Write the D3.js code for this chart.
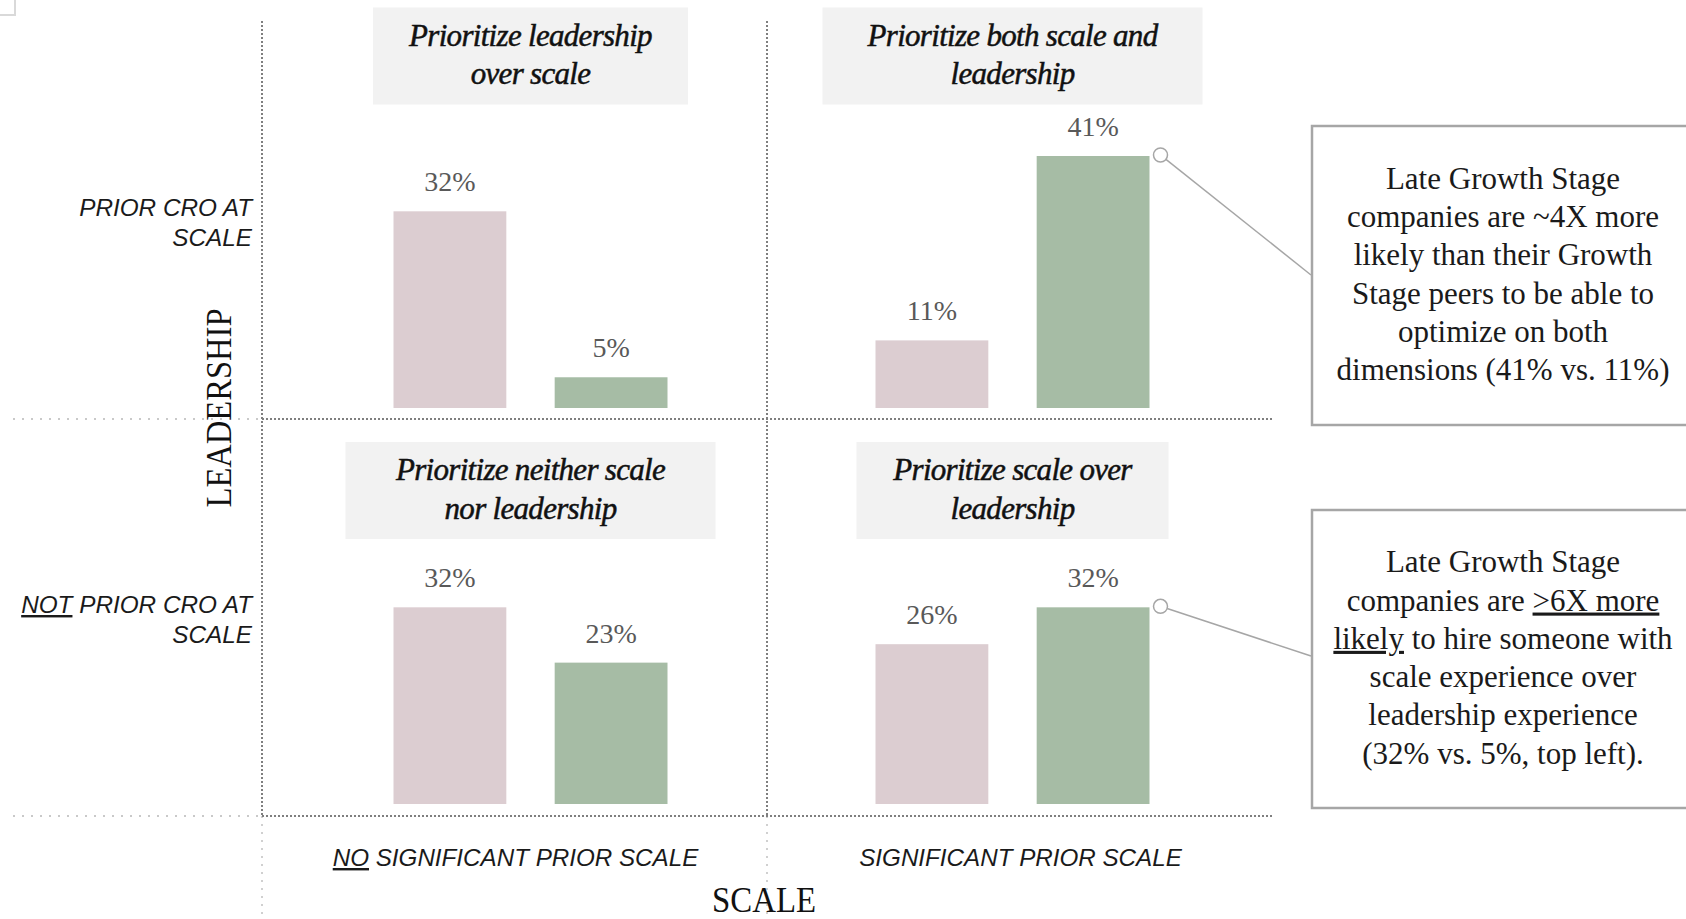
<!DOCTYPE html>
<html>
<head>
<meta charset="utf-8">
<script src="https://cdn.jsdelivr.net/npm/d3@7"></script>
<style>
  html, body { margin: 0; padding: 0; background: #ffffff; }
  svg { display: block; }
</style>
</head>
<body>
<div id="chart"></div>
<script>
// data
var groups = ["Growth Stage", "Late Growth Stage"];
var quadrantTitles = [
	["Prioritize leadership", "over scale"],
	["Prioritize both scale and", "leadership"],
	["Prioritize neither scale", "nor leadership"],
	["Prioritize scale over", "leadership"]
];
var growthValues = [32, 11, 32, 26];
var lateValues = [5, 41, 23, 32];
var rowLabels = [
	[[{t: "PRIOR CRO AT"}], [{t: "SCALE"}]],
	[[{t: "NOT", u: true}, {t: " PRIOR CRO AT"}], [{t: "SCALE"}]]
];
var colLabels = [
	[{t: "NO", u: true}, {t: " SIGNIFICANT PRIOR SCALE"}],
	[{t: "SIGNIFICANT PRIOR SCALE"}]
];
var callouts = [
	{quad: 1, lines: [
		[{t: "Late Growth Stage"}],
		[{t: "companies are ~4X more"}],
		[{t: "likely than their Growth"}],
		[{t: "Stage peers to be able to"}],
		[{t: "optimize on both"}],
		[{t: "dimensions (41% vs. 11%)"}]
	]},
	{quad: 3, lines: [
		[{t: "Late Growth Stage"}],
		[{t: "companies are "}, {t: ">6X more", u: true}],
		[{t: "likely", u: true}, {t: " to hire someone with"}],
		[{t: "scale experience over"}],
		[{t: "leadership experience"}],
		[{t: "(32% vs. 5%, top left)."}]
	]}
];

var colorDic = {"Growth Stage": "#dccdd1", "Late Growth Stage": "#a6bca5"};
var serif = "'Liberation Serif', 'Times New Roman', serif";
var sans = "'Liberation Sans', Arial, sans-serif";

var width = 1686, height = 919;
var gridX = [262, 767, 1272];    // left, middle, right of quadrant grid
var gridY = [21, 419, 816];      // top, middle, bottom
var barStart = [393.5, 875.5];   // where each column's bars begin
var baseline = [408, 804];       // bar baseline per row
var titleTop = [7.5, 442];
var titleBoxW = [315, 380, 370, 312];
var calloutBox = [{y: 126, h: 299}, {y: 510, h: 298}];

var svg = d3.select("#chart").append("svg")
	.attr("width", width)
	.attr("height", height);

// small corner mark at top left
svg.append("path")
	.attr("d", "M0,15H15V0")
	.attr("fill", "none")
	.attr("stroke", "#d9d9d9")
	.attr("stroke-width", 2);

var barH = d3.scaleLinear().domain([0, 41]).range([0, 252]);

// grid lines
var gridG = svg.append("g");
// light extensions
[gridY[1], gridY[2]].forEach(function (y) {
	gridG.append("line")
		.attr("x1", 13).attr("x2", gridX[0]).attr("y1", y).attr("y2", y)
		.attr("stroke", "#c9c9c9").attr("stroke-width", 2).attr("stroke-dasharray", "2,7");
});
[gridX[0], gridX[1]].forEach(function (x) {
	gridG.append("line")
		.attr("x1", x).attr("x2", x).attr("y1", gridY[2]).attr("y2", height)
		.attr("stroke", "#d0d0d0").attr("stroke-width", 2).attr("stroke-dasharray", "2,6");
});
// dark dotted grid
[gridY[1], gridY[2]].forEach(function (y) {
	gridG.append("line")
		.attr("x1", gridX[0]).attr("x2", gridX[2]).attr("y1", y).attr("y2", y)
		.attr("stroke", "#7f7f7f").attr("stroke-width", 2).attr("stroke-dasharray", "2,2");
});
[gridX[0], gridX[1]].forEach(function (x) {
	gridG.append("line")
		.attr("x1", x).attr("x2", x).attr("y1", gridY[0]).attr("y2", gridY[2])
		.attr("stroke", "#7f7f7f").attr("stroke-width", 2).attr("stroke-dasharray", "2,2");
});

function addSpans(textSel, parts) {
	parts.forEach(function (p) {
		var s = textSel.append("tspan").text(p.t);
		if (p.u) s.style("text-decoration", "underline");
	});
}

var barTops = [];

for (var q = 0; q < 4; q++) {
	var row = Math.floor(q / 2), col = q % 2;
	var x = d3.scaleBand()
		.domain(groups)
		.range([barStart[col], barStart[col] + 274])
		.paddingInner(0.3)
		.paddingOuter(0);
	var vals = [
		{name: groups[0], number: growthValues[q]},
		{name: groups[1], number: lateValues[q]}
	];
	var g = svg.append("g");

	g.selectAll(".typeBar")
		.data(vals)
		.enter()
		.append("rect")
			.attr("class", "typeBar")
			.attr("x", d => x(d.name))
			.attr("y", d => baseline[row] - barH(d.number))
			.attr("width", x.bandwidth())
			.attr("height", d => barH(d.number))
			.attr("fill", d => colorDic[d.name]);

	g.selectAll(".valLabel")
		.data(vals)
		.enter()
		.append("text")
			.attr("class", "valLabel")
			.attr("text-anchor", "middle")
			.attr("x", d => x(d.name) + x.bandwidth() / 2)
			.attr("y", d => baseline[row] - barH(d.number) - 20)
			.attr("font-family", serif)
			.attr("font-size", "28px")
			.attr("fill", "#595959")
			.text(d => d.number + "%");

	barTops[q] = {
		x: x(groups[1]) + x.bandwidth(),
		y: baseline[row] - barH(lateValues[q])
	};

	// title box
	var cx = barStart[col] + 137;
	var tg = svg.append("g");
	tg.append("rect")
		.attr("x", cx - titleBoxW[q] / 2)
		.attr("y", titleTop[row])
		.attr("width", titleBoxW[q])
		.attr("height", 97)
		.attr("fill", "#f2f2f2");
	quadrantTitles[q].forEach(function (line, i) {
		tg.append("text")
			.attr("x", cx)
			.attr("y", titleTop[row] + 38 + i * 38.5)
			.attr("text-anchor", "middle")
			.attr("font-family", serif)
			.attr("font-style", "italic")
			.attr("font-size", "31px")
			.attr("letter-spacing", "-0.7px")
			.attr("fill", "#111")
			.attr("stroke", "#111")
			.attr("stroke-width", 0.5)
			.text(line);
	});
}

// row labels
var rowBase = [216, 613];
rowLabels.forEach(function (lines, r) {
	lines.forEach(function (parts, i) {
		var t = svg.append("text")
			.attr("x", 252)
			.attr("y", rowBase[r] + i * 29.5)
			.attr("text-anchor", "end")
			.attr("font-family", sans)
			.attr("font-style", "italic")
			.attr("font-size", "24.3px")
			.attr("fill", "#1a1a1a");
		addSpans(t, parts);
	});
});

// column labels
colLabels.forEach(function (parts, c) {
	var t = svg.append("text")
		.attr("x", (gridX[c] + gridX[c + 1]) / 2 + 1)
		.attr("y", 866)
		.attr("text-anchor", "middle")
		.attr("font-family", sans)
		.attr("font-style", "italic")
		.attr("font-size", "24.2px")
		.attr("fill", "#1a1a1a");
	addSpans(t, parts);
});

// axis titles
svg.append("text")
	.attr("x", 764)
	.attr("y", 912)
	.attr("text-anchor", "middle")
	.attr("font-family", serif)
	.attr("font-size", "36px")
	.attr("textLength", 104)
	.attr("lengthAdjust", "spacingAndGlyphs")
	.attr("fill", "#111")
	.text("SCALE");

svg.append("text")
	.attr("transform", "translate(231,408) rotate(-90)")
	.attr("text-anchor", "middle")
	.attr("font-family", serif)
	.attr("font-size", "36px")
	.attr("textLength", 199)
	.attr("lengthAdjust", "spacingAndGlyphs")
	.attr("fill", "#111")
	.text("LEADERSHIP");

// callouts
callouts.forEach(function (c, k) {
	var b = calloutBox[k];
	svg.append("rect")
		.attr("x", 1312)
		.attr("y", b.y)
		.attr("width", 420)
		.attr("height", b.h)
		.attr("fill", "#ffffff")
		.attr("stroke", "#a6a6a6")
		.attr("stroke-width", 2.5);

	var top = barTops[c.quad];
	var px = top.x + 11, py = top.y - 1;
	var ex = 1311, ey = k == 0 ? 275 : 656;
	var ang = Math.atan2(ey - py, ex - px);
	svg.append("line")
		.attr("x1", px + 7 * Math.cos(ang)).attr("y1", py + 7 * Math.sin(ang))
		.attr("x2", ex).attr("y2", ey)
		.attr("stroke", "#a6a6a6").attr("stroke-width", 1.5);
	svg.append("circle")
		.attr("cx", px).attr("cy", py).attr("r", 7)
		.attr("fill", "#ffffff")
		.attr("stroke", "#a6a6a6").attr("stroke-width", 1.5);

	var nLines = c.lines.length;
	var firstBase = b.y + b.h / 2 - (nLines - 1) * 38.3 / 2 + 9;
	c.lines.forEach(function (parts, i) {
		var t = svg.append("text")
			.attr("x", 1503)
			.attr("y", firstBase + i * 38.3)
			.attr("text-anchor", "middle")
			.attr("font-family", serif)
			.attr("font-size", "31px")
			.attr("fill", "#1a1a1a");
		addSpans(t, parts);
	});
});
</script>
</body>
</html>
